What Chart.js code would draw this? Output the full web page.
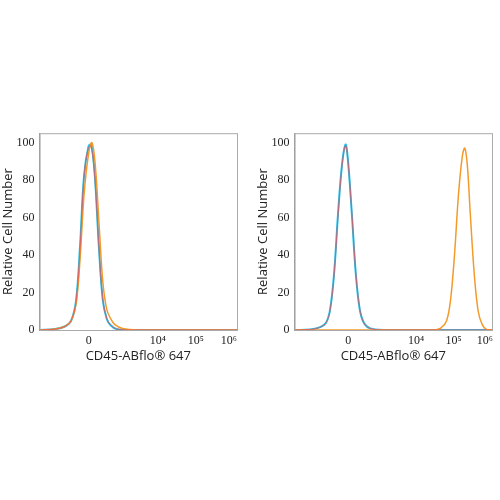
<!DOCTYPE html><html><head><script src="https://cdn.jsdelivr.net/npm/chart.js@4"></script>
<style>body{margin:0;background:#fff;width:500px;height:500px;position:relative}
.c{position:absolute;top:125px;width:245px;height:243px}</style></head><body>
<div class="c" style="left:0"><canvas id="a"></canvas></div>
<div class="c" style="left:255px"><canvas id="b"></canvas></div>
<script>
const leftTickPos=[24.9,59.9,79.2,95.9];
const rightTickPos=[27.2,61.5,80.5,96.4];
const tickLabels=['0','10⁴','10⁵','10⁶'];
const L_orange=[[0,0],[8,0.5],[13,2],[16,5],[18.5,14],[20.5,38],[22.5,72],[24.8,94],[26.5,100],[28.2,88],[30.2,55],[32,26],[34,11],[36,6],[38,3],[42,0.8],[50,0],[100,0]];
const L_red=[[0,0],[8,0.5],[13,2],[16,5],[18.5,15.5],[20.5,44],[22.5,82],[24.6,97],[26.1,98],[28,81],[30,45],[32,16.5],[34,6.3],[36,2.7],[39,0.6],[45,0],[100,0]];
const L_blue=[[0,0],[8,0.5],[13,2],[16,5],[18.5,16],[20.5,45],[22.5,82],[24.8,98],[26.2,99],[28,82],[30,45],[32,16],[34,6],[36,2.5],[39,0.5],[45,0],[100,0]];
const R_orange=[[0,0],[70,0],[74,1],[77,5],[79,16],[81,40],[83,72],[85,93],[86.2,97],[87.5,88],[89,62],[91,30],[93,10],[95,3],[97,0.5],[100,0]];
const R_red=[[0,0],[8,0.3],[13,1.5],[16,4],[18,10.8],[20,29.5],[22,61],[24,87.5],[25.8,98.5],[27,90.5],[29,62.5],[31,30.5],[33,11.3],[35,4],[38,1],[45,0],[100,0]];
const R_blue=[[0,0],[8,0.3],[13,1.5],[16,4],[18,11],[20,30],[22,62],[24,88],[25.8,99],[27,91],[29,62],[31,30],[33,11],[35,4],[38,1],[45,0],[70,0],[100,0]];
const cols={orange:'#f39a2b',red:'#e8505b',blue:'#1cc0ea'};
function ds(d,c,w){return{data:d.map(p=>({x:p[0],y:p[1]})),borderColor:c,borderWidth:w||1.5,pointRadius:0,tension:0.35,fill:false}}
function mk(id,sets,pos){
 new Chart(document.getElementById(id),{type:'line',data:{datasets:sets},
 options:{animation:false,responsive:true,maintainAspectRatio:false,
 layout:{padding:{top:8,right:8,left:0,bottom:0}},
 plugins:{legend:{display:false},tooltip:{enabled:false}},
 scales:{x:{type:'linear',min:0,max:100,afterBuildTicks:s=>{s.ticks=pos.map(v=>({value:v}))},
   ticks:{autoSkip:false,maxRotation:0,color:'#222',padding:0,font:{family:'Liberation Serif',size:12},callback:(v,i)=>tickLabels[i]},
   grid:{display:false,drawTicks:true,tickLength:4,color:'#333'},border:{color:'#999'},
   title:{display:true,text:'CD45-ABflo® 647',color:'#222',font:{family:'Open Sans',size:13},padding:{top:0}}},
  y:{min:0,max:105,afterBuildTicks:s=>{s.ticks=[0,20,40,60,80,100].map(v=>({value:v}))},
   ticks:{color:'#222',padding:1,font:{family:'Liberation Serif',size:12}},
   grid:{display:false,tickLength:4,color:'#333'},border:{color:'#999'},
   title:{display:true,text:'Relative Cell Number',color:'#222',font:{family:'Open Sans',size:13},padding:0}}}},
 plugins:[{id:'box',afterDraw(c){const a=c.chartArea,x=c.ctx;x.save();x.strokeStyle='#aaa';x.lineWidth=1;x.strokeRect(a.left+.5,a.top+.5,a.width,a.height);x.restore();}}]});
}
mk('a',[ds(L_red,cols.red,0.8),ds(L_orange,cols.orange),ds(L_blue,cols.blue,2)],leftTickPos);
mk('b',[ds(R_red,cols.red,0.8),ds(R_orange,cols.orange),ds(R_blue,cols.blue,2)],rightTickPos);
</script></body></html>
